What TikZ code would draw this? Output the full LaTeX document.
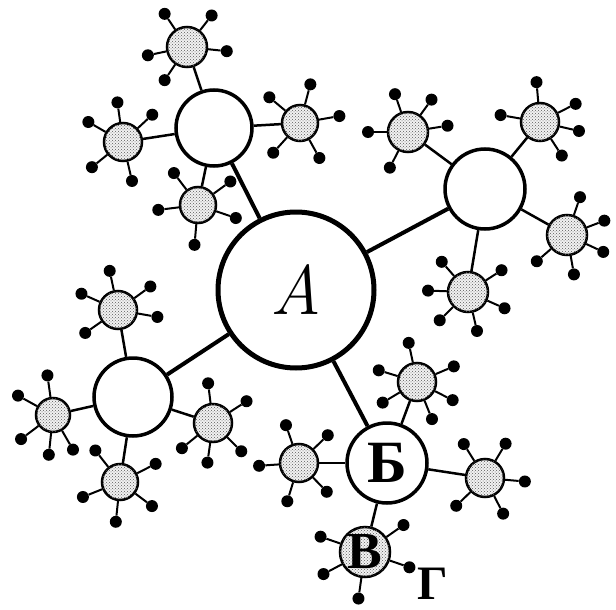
\documentclass[tikz,border=0pt]{standalone}
\usepackage{fontspec}
\newfontfamily\cyrfont{Liberation Serif}
\usetikzlibrary{patterns}
\tikzset{
  core/.style={circle, draw, line width=5pt, minimum size=156pt, inner sep=0pt, font=\fontsize{70}{80}\selectfont\itshape},
  hub/.style={circle, draw, line width=3.5pt, inner sep=0pt, fill=white},
  sat/.style={circle, draw, line width=2.5pt, inner sep=0pt, fill=black!5, postaction={pattern=crosshatch dots, pattern color=black!65}},
  dot/.style={circle, fill, inner sep=0pt, minimum size=12pt},
  spoke/.style={line width=2pt},
  link/.style={line width=2.5pt},
  mainlink/.style={line width=4pt},
  letter/.style={font=\cyrfont\bfseries\fontsize{60}{70}\selectfont},
}

\begin{document}
\begin{tikzpicture}[x=1pt, y=1pt]
  \useasboundingbox (0,-610) rectangle (616,0);
  % centre and the four hubs
  \node[core] (A) at (296,-290) {A};
  \node[hub, minimum size=76pt] (tl) at (214,-128) {};
  \node[hub, minimum size=80pt] (tr) at (485,-189) {};
  \node[hub, minimum size=78pt] (bl) at (133,-397) {};
  \node[hub, minimum size=80pt, letter] (b) at (387,-463) {Б};
  \draw[mainlink] (A) -- (tl);
  \draw[mainlink] (A) -- (tr);
  \draw[mainlink] (A) -- (bl);
  \draw[mainlink] (A) -- (b);
  % satellites
  \node[sat, minimum size=40pt] (tl1) at (187,-47) {};
  \node[sat, minimum size=38pt] (tl2) at (123,-142) {};
  \node[sat, minimum size=36pt] (tl3) at (300,-123) {};
  \node[sat, minimum size=36pt] (tl4) at (198,-205) {};
  \node[sat, minimum size=40pt] (tr1) at (408,-132) {};
  \node[sat, minimum size=38pt] (tr2) at (540,-122) {};
  \node[sat, minimum size=40pt] (tr3) at (567,-235) {};
  \node[sat, minimum size=40pt] (tr4) at (468,-292) {};
  \node[sat, minimum size=38pt] (bl1) at (118,-310) {};
  \node[sat, minimum size=34pt] (bl2) at (53,-415) {};
  \node[sat, minimum size=38pt] (bl3) at (213,-423) {};
  \node[sat, minimum size=36pt] (bl4) at (120,-482) {};
  \node[sat, minimum size=38pt] (b1) at (417,-382) {};
  \node[sat, minimum size=38pt] (b2) at (299,-463) {};
  \node[sat, minimum size=38pt] (b3) at (485,-478) {};
  \node[sat, minimum size=50pt, letter, font=\cyrfont\bfseries\fontsize{52}{60}\selectfont] (b4) at (365,-552) {В};
  \node[letter, font=\cyrfont\bfseries\fontsize{48}{56}\selectfont] (g) at (433,-584) {Г};
  \foreach \s/\h in {tl1/tl, tl2/tl, tl3/tl, tl4/tl, tr1/tr, tr2/tr, tr3/tr, tr4/tr,
                     bl1/bl, bl2/bl, bl3/bl, bl4/bl, b1/b, b2/b, b3/b, b4/b}
    \draw[link] (\h) -- (\s);
  % dots round each satellite
  \foreach \s/\angles in {tl1/{124,52,-6,192,236}, tl2/{98,43,150,219,283},
                          tl3/{75,140,10,228,299}, tl4/{127,36,187,-19,265},
                          tr1/{109,54,9,180,243}, tr2/{95,27,-13,170,-57},
                          tr3/{71,21,-25,221,-80}, tr4/{131,33,178,-24,225,-77},
                          bl1/{102,36,156,-10,215}, bl2/{98,151,217,264,-60},
                          bl3/{97,33,219,-45,262}, bl4/{128,27,202,-37,264},
                          b1/{102,23,163,-27,211,-68}, b2/{109,44,184,-46,253},
                          b3/{122,59,-5,224,-63}}
    \foreach \a [count=\i] in \angles {
      \path (\s) ++(\a:40) node[dot] (\s d\i) {};
      \draw[spoke] (\s) -- (\s d\i);
    }
  \foreach \a [count=\i] in {161,35,-19,208,262} {
    \path (b4) ++(\a:47) node[dot] (b4d\i) {};
    \draw[spoke] (b4) -- (b4d\i);
  }
\end{tikzpicture}
\end{document}
